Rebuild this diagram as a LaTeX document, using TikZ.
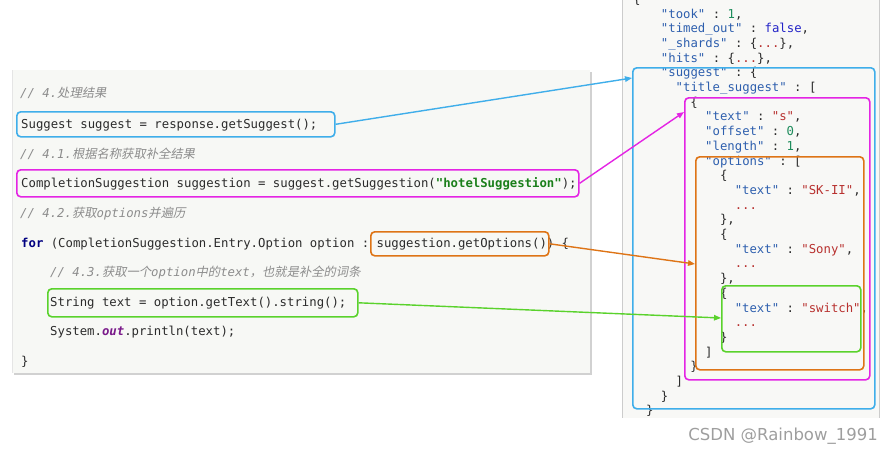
\documentclass[tikz,border=0pt]{standalone}
\usepackage{fontspec}
\setmonofont{DejaVu Sans Mono}[ItalicFont={DejaVu Sans Mono Oblique},BoldFont={DejaVu Sans Mono Bold},BoldItalicFont={DejaVu Sans Mono Bold Oblique}]
\newfontfamily\cjk{Noto Sans CJK SC}[FakeSlant=0.2]
\newfontfamily\wmfont{DejaVu Sans}
\usetikzlibrary{arrows.meta}
\definecolor{panelbg}{HTML}{F7F8F5}
\definecolor{jsonbg}{HTML}{F8F8F6}
\definecolor{codefg}{HTML}{2B2B2B}
\definecolor{cmtgray}{HTML}{8C8C8C}
\definecolor{kwblue}{HTML}{000080}
\definecolor{strgreen}{HTML}{1A7F1A}
\definecolor{outpurple}{HTML}{7A1A8A}
\definecolor{jkeyc}{HTML}{2E5FAE}
\definecolor{jstrc}{HTML}{B8312F}
\definecolor{jnumc}{HTML}{1E8C5C}
\definecolor{jboolc}{HTML}{2424C8}
\definecolor{cblue}{HTML}{3FAEEA}
\definecolor{cmag}{HTML}{E424E4}
\definecolor{corange}{HTML}{DE7416}
\definecolor{cgreen}{HTML}{5AD22C}
\newcommand\jkey[1]{\textcolor{jkeyc}{"#1"}}
\newcommand\jstr[1]{\textcolor{jstrc}{"#1"}}
\newcommand\jnum[1]{\textcolor{jnumc}{#1}}
\newcommand\jred[1]{\textcolor{jstrc}{#1}}
\newcommand\jl[3]{\node[codeline] (j#1) at ({646+7.38*#2},{3.3+14.7*#1}) {#3};}
\begin{document}
\begin{tikzpicture}[x=1pt,y=-1pt,
  codeline/.style={font={\ttfamily\fontsize{12.3}{14}\selectfont}, text=codefg, inner sep=0pt, anchor=base west},
  cmtline/.style={font={\ttfamily\itshape\fontsize{12.3}{14}\selectfont}, text=cmtgray, inner sep=0pt, anchor=base west},
  hlbox/.style={draw=#1, line width=1.6pt, rounded corners=4pt, inner sep=0pt, anchor=north west},
  linkarrow/.style={draw=#1, line width=1.4pt, -{Triangle[length=7pt,width=5.5pt]}},
]
\useasboundingbox (0,0) rectangle (892,453);
% panels
\fill[black!18] (14,72) rectangle (592,375);
\fill[panelbg] (12,70) rectangle (590,373);
\draw[black!10, line width=0.6pt] (12,70) -- (12,373);
\fill[jsonbg] (622,0) rectangle (879,418);
\draw[black!20, line width=0.8pt] (622,0) -- (622,418);
\draw[black!20, line width=0.8pt] (879,0) -- (879,418);
% left code
\node[cmtline] (c1) at (20,97) {// 4.{\cjk 处理结果}};
\node[codeline] (l1) at (21,128) {Suggest suggest = response.getSuggest();};
\node[cmtline] (c2) at (20,158) {// 4.1.{\cjk 根据名称获取补全结果}};
\node[codeline] (l2) at (21,187) {CompletionSuggestion suggestion = suggest.getSuggestion({\bfseries\color{strgreen}"hotelSuggestion"});};
\node[cmtline] (c3) at (20,217) {// 4.2.{\cjk 获取}options{\cjk 并遍历}};
\node[codeline] (l3) at (21,247) {{\bfseries\color{kwblue}for} (CompletionSuggestion.Entry.Option option : suggestion.getOptions()) \{};
\node[cmtline] (c4) at (50,276) {// 4.3.{\cjk 获取一个}option{\cjk 中的}text{\cjk ，也就是补全的词条}};
\node[codeline] (l4) at (50,306) {String text = option.getText().string();};
\node[codeline] (l5) at (50,335) {System.{\bfseries\itshape\color{outpurple}out}.println(text);};
\node[codeline] (l6) at (21,365) {\}};
% JSON
\node[codeline] (j0) at (633,3.3) {\{};
\jl{1}{2}{\jkey{took} : \jnum{1},}
\jl{2}{2}{\jkey{timed\_out} : \textcolor{jboolc}{false},}
\jl{3}{2}{\jkey{\_shards} : \{\jred{...}\},}
\jl{4}{2}{\jkey{hits} : \{\jred{...}\},}
\jl{5}{2}{\jkey{suggest} : \{}
\jl{6}{4}{\jkey{title\_suggest} : [}
\jl{7}{6}{\{}
\jl{8}{8}{\jkey{text} : \jstr{s},}
\jl{9}{8}{\jkey{offset} : \jnum{0},}
\jl{10}{8}{\jkey{length} : \jnum{1},}
\jl{11}{8}{\jkey{options} : [}
\jl{12}{10}{\{}
\jl{13}{12}{\jkey{text} : \jstr{SK-II},}
\jl{14}{12}{\jred{...}}
\jl{15}{10}{\},}
\jl{16}{10}{\{}
\jl{17}{12}{\jkey{text} : \jstr{Sony},}
\jl{18}{12}{\jred{...}}
\jl{19}{10}{\},}
\jl{20}{10}{\{}
\jl{21}{12}{\jkey{text} : \jstr{switch},}
\jl{22}{12}{\jred{...}}
\jl{23}{10}{\}}
\jl{24}{8}{]}
\jl{25}{6}{\}}
\jl{26}{4}{]}
\jl{27}{2}{\}}
\jl{28}{0}{\}}
% highlight boxes
\node[hlbox=cblue, minimum width=318, minimum height=25] (sbox) at (16,111) {};
\node[hlbox=cmag, minimum width=562, minimum height=27] (mbox) at (16,169) {};
\node[hlbox=corange, minimum width=178, minimum height=24] (obox) at (370,231) {};
\node[hlbox=cgreen, minimum width=310, minimum height=28] (gbox) at (47,288) {};
\node[hlbox=cblue, minimum width=242, minimum height=341] (jblue) at (632,67) {};
\node[hlbox=cmag, minimum width=185, minimum height=282] (jmag) at (684,97) {};
\node[hlbox=corange, minimum width=168, minimum height=213] (jorange) at (695,156) {};
\node[hlbox=cgreen, minimum width=139, minimum height=66] (jgreen) at (721,285) {};
% connectors
\draw[linkarrow=cblue] (sbox.east) -- ([yshift=-11pt]jblue.north west);
\draw[linkarrow=cmag] (mbox.east) -- ([yshift=-15pt]jmag.north west);
\draw[linkarrow=corange] (obox.east) -- ([yshift=-108pt]jorange.north west);
\draw[linkarrow=cgreen] (gbox.east) -- ([yshift=-33pt]jgreen.north west);
% watermark
\node[font={\wmfont\fontsize{16.5}{17}\selectfont}, text=black!38, anchor=east, inner sep=0pt] (wm) at (878,436) {CSDN @Rainbow\_1991};
\end{tikzpicture}
\end{document}
